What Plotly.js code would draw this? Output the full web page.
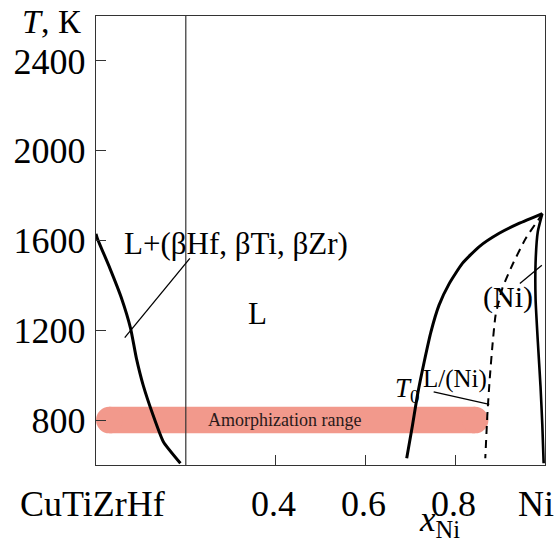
<!DOCTYPE html>
<html>
<head>
<meta charset="utf-8">
<script src="https://cdn.plot.ly/plotly-3.0.1.min.js"></script>
<style>
  html, body { margin: 0; padding: 0; background: #fff; }
  #chart { width: 555px; height: 542px; }
  #chart svg text { font-family: 'Liberation Serif' !important; }
</style>
</head>
<body>
<div id="chart"></div>
<script>
// Phase boundaries of the CuTiZrHf–Ni section (composition x_Ni, temperature T in K)
const leftLiquidusX = [0.000, 0.003, 0.031, 0.057, 0.077, 0.090, 0.105, 0.127, 0.150, 0.188];
const leftLiquidusT = [1630, 1609, 1476, 1342, 1209, 1075, 956, 823, 704, 608];

const niLiquidusX = [0.692, 0.705, 0.716, 0.731, 0.746, 0.764, 0.787, 0.816, 0.853, 0.898, 0.942, 0.994];
const niLiquidusT = [630, 778, 912, 1060, 1193, 1312, 1409, 1498, 1572, 1632, 1676, 1720];

const niSolidusX = [0.994, 0.984, 0.979, 0.979, 0.984, 0.990, 0.994, 0.997];
const niSolidusT = [1720, 1640, 1500, 1340, 1150, 950, 780, 608];

const t0X = [0.994, 0.987, 0.957, 0.927, 0.905, 0.890, 0.883, 0.877, 0.872, 0.867];
const t0T = [1720, 1698, 1609, 1490, 1387, 1268, 1134, 986, 837, 630];

// Composition of the equiatomic base alloy marked by the vertical line
const baseLineX = [0.2, 0.2];
const baseLineT = [600, 2600];

// Amorphization range: composition span, centre temperature and half-height
const amorphX = [0.0, 0.874];
const amorphT = 800;
const amorphHalfT = 59;

// Leader lines from labels to boundaries
const leaderBetaX = [0.064, 0.209];
const leaderBetaT = [1167, 1520];
const leaderNiX = [0.944, 0.993];
const leaderNiT = [1409, 1490];
const leaderLNiX = [0.752, 0.876];
const leaderLNiT = [926, 870];

// Axis ticks
const yTickVals = [600, 800, 1200, 1600, 2000, 2400];
const yTickText = ['', '800', '1200', '1600', '2000', '2400'];
const xTickVals = [0, 0.4, 0.6, 0.8, 1];
const xTickText = ['CuTiZrHf', '0.4', '0.6', '0.8', 'Ni'];

const SERIF = 'Liberation Serif';
const X_RANGE = [0, 1];
const Y_RANGE = [600, 2600];
const M = {l: 96, r: 10, t: 16, b: 77};
const W = 555, H = 542;
const plotW = W - M.l - M.r;
const plotH = H - M.t - M.b;

// Bar thickness in pixels derived from its temperature span
const barPx = 2 * amorphHalfT / (Y_RANGE[1] - Y_RANGE[0]) * plotH;
const capX = (barPx / 2) / plotW * (X_RANGE[1] - X_RANGE[0]);
const barColor = 'rgb(242,153,140)';

const black = '#000';
const curve = (x, y, w, extra) => ({
  x: x, y: y, mode: 'lines',
  line: Object.assign({color: black, width: w, shape: 'spline', smoothing: 0.5}, extra || {})
});

const traces = [
  {
    x: [amorphX[0] + capX, amorphX[1] - capX],
    y: [amorphT, amorphT],
    mode: 'lines+markers',
    line: {color: barColor, width: barPx},
    marker: {color: barColor, size: barPx, line: {width: 0}},
    hoverinfo: 'skip'
  },
  {x: baseLineX, y: baseLineT, mode: 'lines', line: {color: '#333', width: 1.2}},
  curve(leftLiquidusX, leftLiquidusT, 3),
  curve(niLiquidusX, niLiquidusT, 3),
  curve(niSolidusX, niSolidusT, 2.6),
  curve(t0X, t0T, 2, {dash: '8px,6px'}),
  {x: leaderBetaX, y: leaderBetaT, mode: 'lines', line: {color: black, width: 1.3}},
  {x: leaderNiX, y: leaderNiT, mode: 'lines', line: {color: black, width: 1.3}},
  {x: leaderLNiX, y: leaderLNiT, mode: 'lines', line: {color: black, width: 1.3}}
];

const annotations = [];
const xShift = {'CuTiZrHf': -4, 'Ni': -9};
xTickVals.forEach((v, i) => {
  annotations.push({
    x: v, y: -0.087, xref: 'x', yref: 'paper', showarrow: false,
    text: xTickText[i], xanchor: 'center', yanchor: 'middle',
    xshift: xShift[xTickText[i]] || -2,
    font: {family: SERIF, size: 36, color: black}
  });
});

function label(text, x, y, size, extra) {
  return Object.assign({
    x: x, y: y, xref: 'x', yref: 'y', text: text, showarrow: false,
    xanchor: 'center', yanchor: 'middle',
    font: {family: SERIF, size: size, color: black}
  }, extra || {});
}

annotations.push(
  label('L+(βHf, βTi, βZr)', 0.057, 1585, 31, {xanchor: 'left'}),
  label('L', 0.36, 1277, 31),
  label('(Ni)', 0.917, 1348, 30),
  label('L/(Ni)', 0.80, 985, 25),
  label('<i>T</i><sub>0</sub>', 0.693, 935, 27),
  label('Amorphization range', 0.42, amorphT, 18, {font: {family: SERIF, size: 18, color: '#2a1a1a'}}),
  {
    x: -0.028, y: 0.988, xref: 'paper', yref: 'paper', showarrow: false,
    text: '<i>T</i>, К', xanchor: 'right', yanchor: 'middle',
    font: {family: SERIF, size: 34, color: black}
  },
  {
    x: 0.765, y: -0.125, xref: 'paper', yref: 'paper', showarrow: false,
    text: '<i>x</i><sub>Ni</sub>', xanchor: 'center', yanchor: 'middle',
    font: {family: SERIF, size: 35, color: black}
  }
);

const layout = {
  width: W, height: H,
  margin: M,
  paper_bgcolor: '#fff', plot_bgcolor: '#fff',
  showlegend: false,
  font: {family: SERIF, color: black},
  xaxis: {
    range: X_RANGE, showgrid: false, zeroline: false,
    showline: true, mirror: true, linecolor: '#333', linewidth: 1.4,
    ticks: 'inside', ticklen: 10, tickwidth: 1.4, tickcolor: '#333',
    tickvals: [0.4, 0.6, 0.8], showticklabels: false
  },
  yaxis: {
    range: Y_RANGE, showgrid: false, zeroline: false,
    showline: true, mirror: true, linecolor: '#333', linewidth: 1.4,
    ticks: 'inside', ticklen: 10, tickwidth: 1.4, tickcolor: '#333',
    tickvals: yTickVals, ticktext: yTickText,
    tickfont: {family: SERIF, size: 36, color: black},
    ticklabelstandoff: 2
  },
  annotations: annotations
};

Plotly.newPlot('chart', traces, layout, {displayModeBar: false});
</script>
</body>
</html>
